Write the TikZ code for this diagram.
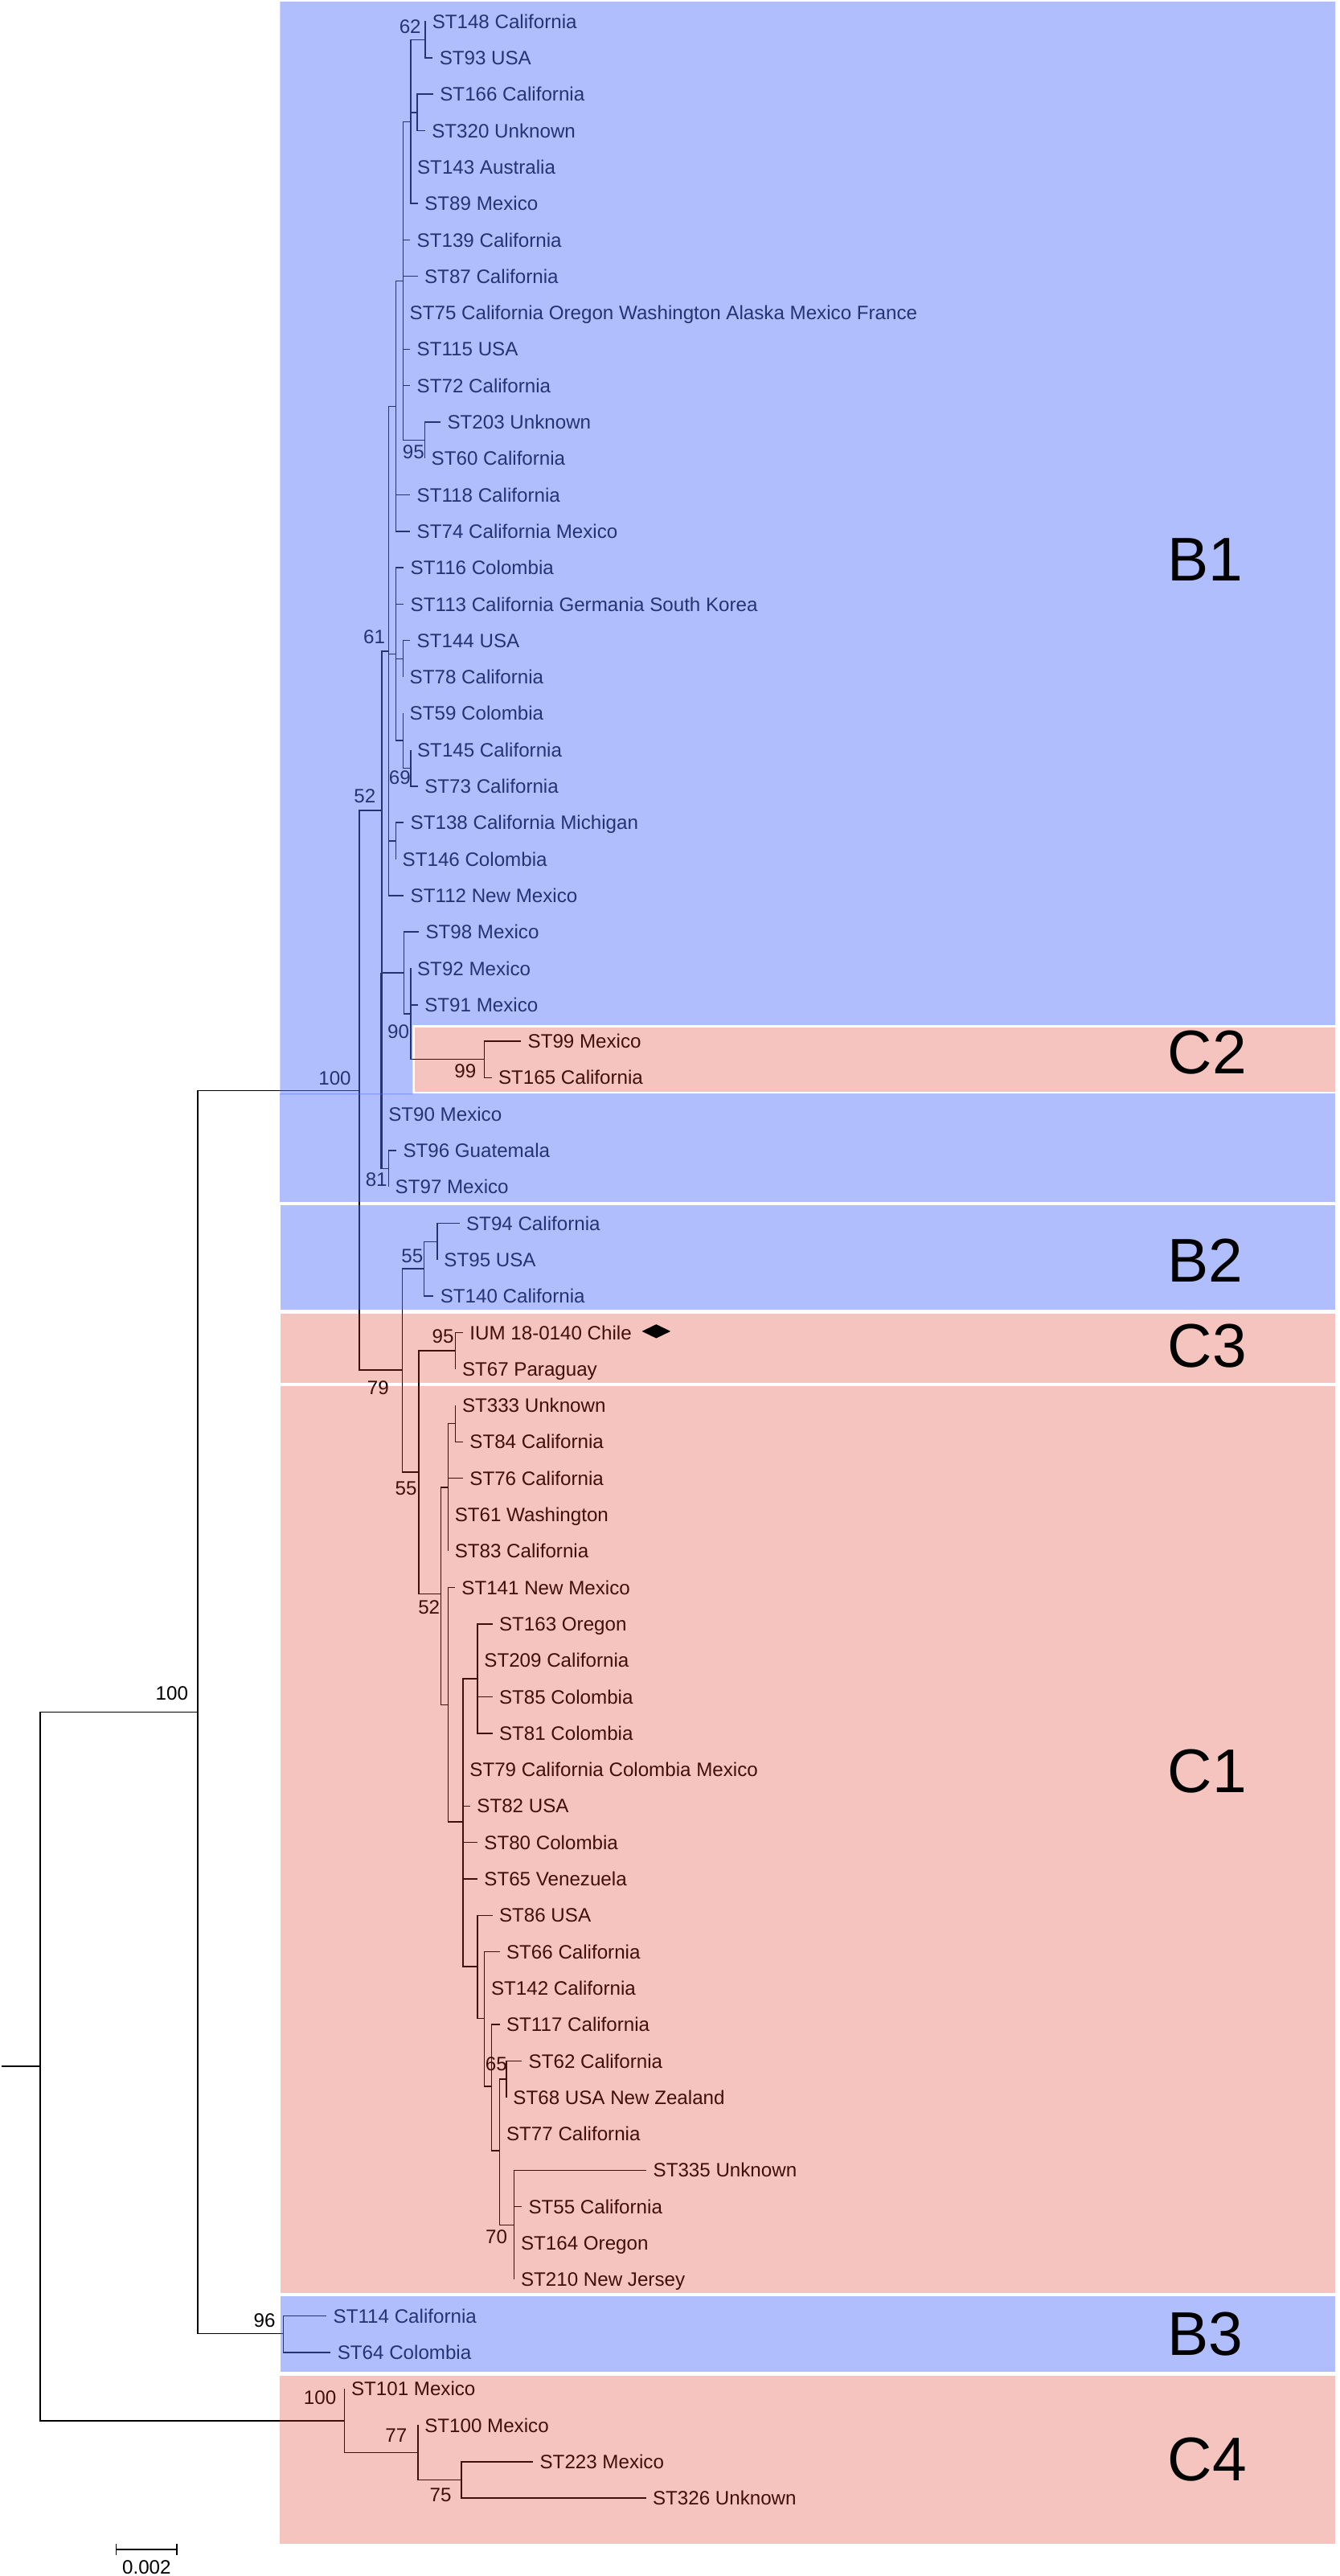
\documentclass[tikz,border=0pt]{standalone}
\usepackage{fontspec}
\setmainfont{Liberation Sans}
\usetikzlibrary{shapes.geometric}
\usepackage{xcolor}
\definecolor{bandblue}{RGB}{83,113,250}
\definecolor{bandpink}{RGB}{224,52,34}
\newcommand{\leaffont}{\fontsize{11.8}{13}\selectfont}
\newcommand{\groupfont}{\fontsize{37.5}{40}\selectfont}

\begin{document}
\begin{tikzpicture}
[x=1pt, y=-1pt,
% tree lines
branch/.style={line width=0.75pt},
% leaf labels sit just right of the branch end
leaf/.style={anchor=base west, inner sep=0pt, font=\leaffont, xshift=3.9pt, yshift=-4.2pt},
% bootstrap values
boot/.style={anchor=east, inner sep=0pt, font=\leaffont},
% coloured bands laid over the tree
blueband/.style={fill=bandblue, fill opacity=0.46},
pinkband/.style={fill=bandpink, fill opacity=0.29},
grouplabel/.style={anchor=west, inner sep=0pt, font=\groupfont}
]
\useasboundingbox (0,0) rectangle (813.9,1565.2);

% Internal nodes
\coordinate (stub) at (1,1255.5);
\coordinate (root) at (24.4,1255.5);
\coordinate (n100b) at (120.2,1040.3);
\coordinate (n100c) at (209.4,1470.8);
\coordinate (n100a) at (218.4,662.6);
\coordinate (n96) at (172.3,1418);
\coordinate (n52a) at (232,492.4);
\coordinate (n79) at (244.4,832.5);
\coordinate (n61) at (236.1,395.6);
\coordinate (nx) at (245.4,591);
\coordinate (n81) at (236.1,710.1);
\coordinate (n457a) at (240.5,247);
\coordinate (n457b) at (240.5,397.5);
\coordinate (n138) at (240.5,511);
\coordinate (n484) at (244.9,170.8);
\coordinate (n512) at (249.5,74.1);
\coordinate (n62) at (258.4,24.1);
\coordinate (n537) at (253.5,68.4);
\coordinate (n95a) at (258.1,267.5);
\coordinate (n144) at (244.9,400.3);
\coordinate (n59) at (244.9,450);
\coordinate (n69) at (249.5,466.7);
\coordinate (n90) at (249.5,616);
\coordinate (n99) at (294.3,643.7);
\coordinate (n55a) at (257.8,770.8);
\coordinate (n94) at (265.8,754.4);
\coordinate (n55b) at (254.4,894.5);
\coordinate (n95c) at (276.8,820.8);
\coordinate (n52c) at (267.9,968.5);
\coordinate (n76) at (272.3,903.7);
\coordinate (n333) at (276.8,865);
\coordinate (n141) at (272.3,1035.8);
\coordinate (ny) at (281.4,1107);
\coordinate (nz) at (290.2,1019.9);
\coordinate (nw) at (290.2,1194.8);
\coordinate (nv) at (294.4,1226.5);
\coordinate (nu) at (298.8,1267.8);
\coordinate (nt) at (303.7,1306.8);
\coordinate (n65) at (307.8,1263.4);
\coordinate (n70) at (312.5,1351.9);
\coordinate (n77) at (254,1490.2);
\coordinate (n75) at (280.4,1506.8);

% Branches between internal nodes
\draw[branch] (stub) -- (root);
\foreach \pa/\ch in {root/n100b, root/n100c, n100b/n100a, n100b/n96, n100a/n52a, n100a/n79,
  n52a/n61, n52a/nx, n52a/n81, n61/n457a, n61/n457b, n61/n138, n457a/n484, n484/n512,
  n512/n62, n512/n537, n484/n95a, n457b/n144, n457b/n59, n59/n69, nx/n90, n90/n99,
  n79/n55a, n55a/n94, n79/n55b, n55b/n95c, n55b/n52c, n52c/n76, n76/n333, n52c/n141,
  n141/ny, ny/nz, ny/nw, nw/nv, nv/nu, nu/nt, nt/n65, nt/n70, n100c/n77, n77/n75}
  \draw[branch] (\pa) |- (\ch);
\draw[branch, line width=1.4pt] (nx -| n52a) -- (n81 -| n52a);

% Leaves: parent / branch end / label
\foreach \pa/\xe/\lab [count=\i from 0] in {
  n62/258.6/ST148 California,
  n62/263/ST93 USA,
  n537/263.3/ST166 California,
  n537/258.4/ST320 Unknown,
  n512/249.5/ST143 Australia,
  n512/254/ST89 Mexico,
  n484/249.3/ST139 California,
  n484/253.9/ST87 California,
  n484/244.9/ST75 California Oregon Washington Alaska Mexico France,
  n484/249.3/ST115 USA,
  n484/249.3/ST72 California,
  n95a/267.8/ST203 Unknown,
  n95a/258.1/ST60 California,
  n457a/249.3/ST118 California,
  n457a/249.3/ST74 California Mexico,
  n457b/245.4/ST116 Colombia,
  n457b/245.4/ST113 California Germania South Korea,
  n144/249.3/ST144 USA,
  n144/244.9/ST78 California,
  n59/244.9/ST59 Colombia,
  n69/249.5/ST145 California,
  n69/254/ST73 California,
  n138/245.4/ST138 California Michigan,
  n138/240.5/ST146 Colombia,
  n61/245.4/ST112 New Mexico,
  nx/254.6/ST98 Mexico,
  n90/249.5/ST92 Mexico,
  n90/254/ST91 Mexico,
  n99/316.7/ST99 Mexico,
  n99/298.8/ST165 California,
  n52a/232/ST90 Mexico,
  n81/240.9/ST96 Guatemala,
  n81/236.1/ST97 Mexico,
  n94/279.3/ST94 California,
  n94/265.8/ST95 USA,
  n55a/263.5/ST140 California,
  n95c/281.4/IUM 18-0140 Chile,
  n95c/276.8/ST67 Paraguay,
  n333/276.8/ST333 Unknown,
  n333/281.4/ST84 California,
  n76/281.4/ST76 California,
  n76/272.3/ST61 Washington,
  n76/272.3/ST83 California,
  n141/276.5/ST141 New Mexico,
  nz/299.3/ST163 Oregon,
  nz/290.2/ST209 California,
  nz/299.3/ST85 Colombia,
  nz/299.3/ST81 Colombia,
  ny/281.4/ST79 California Colombia Mexico,
  ny/285.8/ST82 USA,
  ny/290.2/ST80 Colombia,
  ny/290.2/ST65 Venezuela,
  nw/299.3/ST86 USA,
  nv/303.7/ST66 California,
  nv/294.4/ST142 California,
  nu/303.7/ST117 California,
  n65/317.2/ST62 California,
  n65/307.8/ST68 USA New Zealand,
  nt/303.7/ST77 California,
  n70/392.9/ST335 Unknown,
  n70/317.1/ST55 California,
  n70/312.5/ST164 Oregon,
  n70/312.5/ST210 New Jersey,
  n96/198.5/ST114 California,
  n96/201/ST64 Colombia,
  n100c/209.4/ST101 Mexico,
  n77/254/ST100 Mexico,
  n75/324/ST223 Mexico,
  n75/392.6/ST326 Unknown}
{
  \coordinate (e\i) at (\xe, 13+22.13*\i);
  \draw[branch] (\pa) |- (e\i);
  \node[leaf] (t\i) at (e\i) {\lab};
}

% Bootstrap values
\foreach \nd/\bx/\by/\v in {n62/256/16.4/62, n95a/258/274.8/95, n69/249.7/472.4/69,
  n61/234.2/387/61, n52a/228.5/483.6/52, n100a/213.5/655/100, n90/248.9/627/90,
  n99/289.5/650.6/99, n81/235.5/716.7/81, n55a/257.3/763/55, n95c/276/812/95,
  n79/236.5/843.5/79, n55b/253.5/904.3/55, n52c/267.5/976.7/52, n65/308.3/1254/65,
  n70/308.5/1359/70, n100b/114.5/1029/100, n96/167.5/1410/96, n100c/204.5/1457/100,
  n77/247.5/1480/77, n75/274.5/1516/75}
  \node[boot] (bs\nd) at (\bx,\by) {\v};

% Clade bands
\path[blueband] (170.2,1) -- (811.5,1) -- (811.5,622.8) -- (250.8,622.8) -- (250.8,665) -- (170.2,665) -- cycle;
\path[blueband] (170.2,664.2) rectangle (811.5,730.3);
\path[pinkband] (252,624.4) rectangle (811.5,663.2);
\path[blueband] (170.4,732.2) rectangle (811.5,795.8);
\path[pinkband] (170.4,798.1) rectangle (811.5,840.2);
\path[pinkband] (170.4,842.4) rectangle (811.5,1393.2);
\path[blueband] (170.6,1395.4) rectangle (811.5,1441.3);
\path[pinkband] (169.8,1443.6) rectangle (811.5,1545.4);

% Clade names
\node[grouplabel] (gB1) at (709.5,339.9) {B1};
\node[grouplabel] (gC2) at (709.5,639.4) {C2};
\node[grouplabel] (gB2) at (709.5,765.8) {B2};
\node[grouplabel] (gC3) at (709.5,818) {C3};
\node[grouplabel] (gC1) at (709.5,1076) {C1};
\node[grouplabel] (gB3) at (709.5,1418.2) {B3};
\node[grouplabel] (gC4) at (709.5,1494.5) {C4};

% Marker for the Chilean isolate
\node[diamond, fill=black, inner sep=0pt, aspect=2, minimum width=17.6pt, minimum height=8.6pt] (chile) at (398.8,808.9) {};

% Scale bar
\coordinate (sbl) at (70.7,1549);
\coordinate (sbr) at (107.5,1549);
\draw[branch] (sbl) -- (sbr);
\draw[branch] ([yshift=3.6pt]sbl) -- ([yshift=-3.6pt]sbl);
\draw[branch] ([yshift=3.6pt]sbr) -- ([yshift=-3.6pt]sbr);
\node[anchor=north, inner sep=0pt, font=\leaffont] (sblab) at (89.1,1555.3) {0.002};
\end{tikzpicture}
\end{document}
